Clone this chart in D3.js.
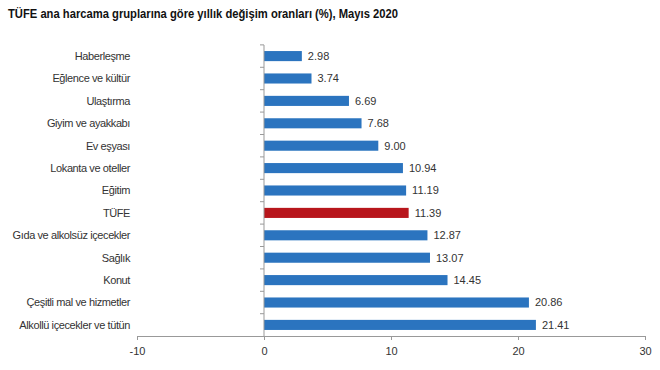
<!DOCTYPE html>
<html>
<head>
<meta charset="utf-8">
<script src="https://cdn.jsdelivr.net/npm/d3@7"></script>
<style>
  body { margin: 0; background: #fff; }
  svg { font-family: "Liberation Sans", Arial, sans-serif; }
</style>
</head>
<body>
<svg id="chart" width="660" height="370"></svg>
<script>
// data
const categories = [
  'Haberleşme', 'Eğlence ve kültür', 'Ulaştırma', 'Giyim ve ayakkabı', 'Ev eşyası',
  'Lokanta ve oteller', 'Eğitim', 'TÜFE', 'Gıda ve alkolsüz içecekler', 'Sağlık',
  'Konut', 'Çeşitli mal ve hizmetler', 'Alkollü içecekler ve tütün'
];
const values = [2.98, 3.74, 6.69, 7.68, 9.00, 10.94, 11.19, 11.39, 12.87, 13.07, 14.45, 20.86, 21.41];
const xTicks = [-10, 0, 10, 20, 30];
const title = 'TÜFE ana harcama gruplarına göre yıllık değişim oranları (%), Mayıs 2020';

const svg = d3.select('#chart');

svg.append('text')
  .attr('x', 8).attr('y', 18)
  .attr('font-size', 12.5).attr('font-weight', 'bold')
  .attr('fill', '#111')
  .attr('textLength', 390).attr('lengthAdjust', 'spacingAndGlyphs')
  .text(title);

const x = d3.scaleLinear().domain([-10, 30]).range([137, 645]);
const y = d3.scaleBand().domain(categories).range([45, 336]).paddingInner(0.55).paddingOuter(0.27);

// bars
svg.append('g').selectAll('rect')
  .data(values)
  .join('rect')
  .attr('x', x(0))
  .attr('y', (d, i) => y(categories[i]))
  .attr('width', d => x(d) - x(0))
  .attr('height', y.bandwidth())
  .attr('fill', (d, i) => categories[i] === 'TÜFE' ? '#b8161c' : '#2b74bf');

// value labels
svg.append('g').selectAll('text')
  .data(values)
  .join('text')
  .attr('x', d => x(d) + 6)
  .attr('y', (d, i) => y(categories[i]) + y.bandwidth() / 2)
  .attr('dy', '0.35em')
  .attr('font-size', 11).attr('fill', '#333')
  .text(d => d.toFixed(2));

// category labels
svg.append('g').selectAll('text')
  .data(categories)
  .join('text')
  .attr('x', 130)
  .attr('y', d => y(d) + y.bandwidth() / 2)
  .attr('dy', '0.35em')
  .attr('text-anchor', 'end')
  .attr('font-size', 11).attr('letter-spacing', -0.4).attr('fill', '#333')
  .text(d => d);

// x axis
const xAxis = svg.append('g')
  .attr('transform', 'translate(0,336)')
  .call(d3.axisBottom(x).tickValues(xTicks).tickFormat(d => String(d)).tickSize(4).tickSizeOuter(0));
xAxis.select('.domain').attr('stroke', '#999');
xAxis.selectAll('.tick line').attr('stroke', '#999');
xAxis.selectAll('.tick text').attr('font-size', 11).attr('fill', '#333')
  .attr('font-family', '"Liberation Sans", Arial, sans-serif').attr('dy', '1.1em');

// y axis at zero with ticks between categories
const yAxisG = svg.append('g');
yAxisG.append('line')
  .attr('x1', x(0)).attr('x2', x(0))
  .attr('y1', y.range()[0]).attr('y2', y.range()[1])
  .attr('stroke', '#999');
yAxisG.selectAll('line.tk')
  .data(d3.range(categories.length))
  .join('line')
  .attr('class', 'tk')
  .attr('x1', x(0) - 4).attr('x2', x(0))
  .attr('y1', i => y(categories[i]) - y.step() * y.paddingInner() / 2)
  .attr('y2', i => y(categories[i]) - y.step() * y.paddingInner() / 2)
  .attr('stroke', '#999');
</script>
</body>
</html>
